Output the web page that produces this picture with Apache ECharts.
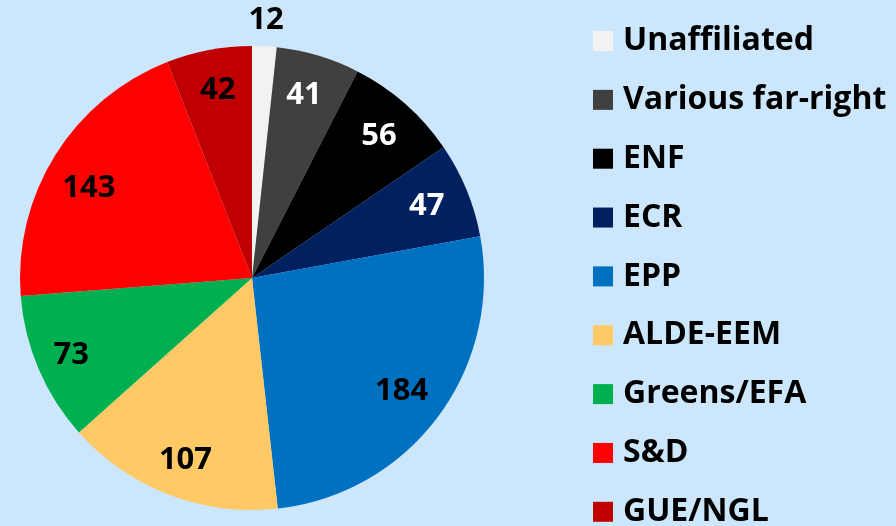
<!DOCTYPE html>
<html>
<head>
<meta charset="utf-8">
<script src="https://cdn.jsdelivr.net/npm/echarts@6/dist/echarts.min.js"></script>
<style>
  html, body { margin: 0; padding: 0; background: #cce7fb; }
  #chart { width: 896px; height: 526px; }
</style>
</head>
<body>
<div id="chart"></div>
<script>
const groups = ['Unaffiliated', 'Various far-right', 'ENF', 'ECR', 'EPP', 'ALDE-EEM', 'Greens/EFA', 'S&D', 'GUE/NGL'];
const seats = [12, 41, 56, 47, 184, 107, 73, 143, 42];
const colors = ['#f2f2f2', '#404040', '#000000', '#002060', '#0070c0', '#ffc966', '#00b050', '#ff0000', '#c00000'];
const labelColors = ['#000', '#fff', '#fff', '#fff', '#000', '#000', '#000', '#000', '#000'];
// small nudges so labels sit where the original placed them
const labelNudge = [[4, -69], [-2, -2], [2, 0], [0, 0], [-2, 0], [1, 6], [-7, 3], [-3, 10], [1, -2]];

const myChart = echarts.init(document.getElementById('chart'));

const font = { fontFamily: 'Open Sans', fontWeight: 'bold', fontSize: 31 };

// slices, no labels
const sliceData = groups.map((name, i) => ({
  name: name,
  value: seats[i],
  itemStyle: { color: colors[i] }
}));

// transparent ring carrying the labels, so they sit at ~0.8 of the radius
const labelData = groups.map((name, i) => ({
  name: name,
  value: seats[i],
  label: { color: labelColors[i], offset: labelNudge[i] }
}));

const option = {
  backgroundColor: '#cce7fb',
  animation: false,
  legend: {
    orient: 'vertical',
    left: 593,
    top: 25,
    height: 515,
    padding: 0,
    itemWidth: 20,
    itemHeight: 20,
    itemGap: 26.85,
    icon: 'rect',
    selectedMode: false,
    data: groups,
    textStyle: {
      color: '#000',
      fontFamily: 'Open Sans',
      fontWeight: 'bold',
      fontSize: 32,
      padding: [0, 0, 0, 5]
    }
  },
  series: [
    {
      type: 'pie',
      center: [252, 278],
      radius: [0, 232],
      startAngle: 90,
      clockwise: true,
      label: { show: false },
      labelLine: { show: false },
      emphasis: { disabled: true },
      data: sliceData
    },
    {
      type: 'pie',
      center: [252, 278],
      radius: [140, 232],
      startAngle: 90,
      clockwise: true,
      silent: true,
      legendHoverLink: false,
      itemStyle: { color: 'rgba(0,0,0,0)' },
      label: Object.assign({ show: true, position: 'inside', formatter: '{c}' }, font),
      labelLine: { show: false },
      emphasis: { disabled: true },
      data: labelData
    }
  ]
};

myChart.setOption(option);
</script>
</body>
</html>
